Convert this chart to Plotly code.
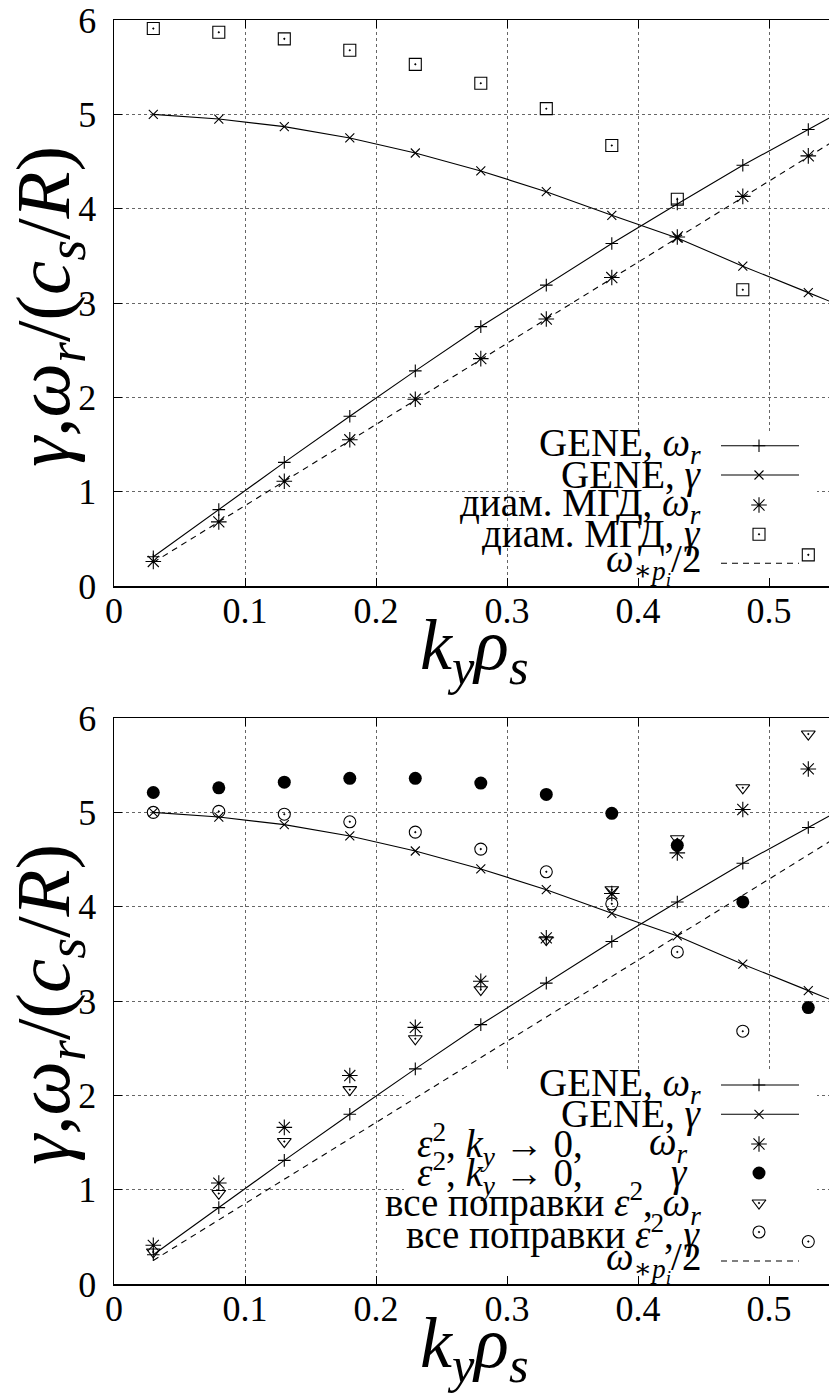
import plotly.graph_objects as go

# ---------------- data ----------------
KY = [0.03, 0.08, 0.13, 0.18, 0.23, 0.28, 0.33, 0.38, 0.43, 0.48, 0.53]
KY_LINE = [0.03, 0.08, 0.13, 0.18, 0.23, 0.28, 0.33, 0.38, 0.43, 0.48, 0.53, 0.58]

GENE_WR = [0.31, 0.81, 1.31, 1.80, 2.28, 2.75, 3.19, 3.63, 4.05, 4.46, 4.84, 5.22]
GENE_GAMMA = [5.00, 4.95, 4.87, 4.75, 4.59, 4.40, 4.18, 3.93, 3.69, 3.39, 3.11, 2.83]
OMEGA_STAR_HALF = [0.25, 0.68, 1.11, 1.54, 1.97, 2.40, 2.83, 3.26, 3.69, 4.12, 4.55, 4.98]

MHD_WR = [0.26, 0.68, 1.11, 1.55, 1.98, 2.41, 2.83, 3.27, 3.70, 4.13, 4.56]
MHD_GAMMA = [5.91, 5.87, 5.80, 5.68, 5.53, 5.33, 5.06, 4.67, 4.10, 3.14, 0.33]

EPS_WR = [0.41, 1.07, 1.66, 2.21, 2.72, 3.21, 3.67, 4.14, 4.57, 5.03, 5.46]
EPS_GAMMA = [5.21, 5.26, 5.32, 5.36, 5.36, 5.31, 5.19, 4.99, 4.65, 4.05, 2.93]
ALL_WR = [0.34, 0.96, 1.51, 2.06, 2.60, 3.12, 3.65, 4.18, 4.72, 5.26, 5.83]
ALL_GAMMA = [5.00, 5.01, 4.98, 4.90, 4.79, 4.61, 4.37, 4.03, 3.52, 2.68, 0.45]

X_TICKS = [0, 0.1, 0.2, 0.3, 0.4, 0.5]
X_TICKTEXT = ["0", "0.1", "0.2", "0.3", "0.4", "0.5"]
Y_TICKS = [0, 1, 2, 3, 4, 5, 6]
Y_TICKTEXT = ["0", "1", "2", "3", "4", "5", "6"]

# ---------------- layout constants (pixels) ----------------
W, H = 829, 1394
PLOT_LEFT = 114
PX_PER_01 = 131.0
XMAX = (W - PLOT_LEFT) / (PX_PER_01 * 10)
TOP_Y0, TOP_Y1 = 586, 20
BOT_Y0, BOT_Y1 = 1284, 718
SERIF = "Liberation Serif, 'Times New Roman', 'DejaVu Serif', serif"
BLACK = "black"


def px(x):
    return x / W


def py(y):
    return 1 - y / H


WR = "<i>ω</i><sub><i>r</i></sub>"
GA = "<i>γ</i>"
OMS = "<i>ω</i><sub>∗<i>p</i><sub><i>i</i></sub></sub>/2"

fig = go.Figure()

line_style = dict(color=BLACK, width=1.1)
plus_m = dict(symbol="cross-thin-open", size=9, color=BLACK, line=dict(color=BLACK, width=1.1))
x_m = dict(symbol="x-thin-open", size=9, color=BLACK, line=dict(color=BLACK, width=1.1))
ast_m = dict(symbol="asterisk-open", size=13, color=BLACK, line=dict(color=BLACK, width=1.1))
sq_m = dict(symbol="square-open-dot", size=12, color=BLACK, line=dict(color=BLACK, width=1.1))
dot_m = dict(symbol="circle", size=13, color=BLACK, line=dict(width=0))
tri_m = dict(symbol="triangle-down-open-dot", size=12, color=BLACK, line=dict(color=BLACK, width=1.1))
circ_m = dict(symbol="circle-open-dot", size=12, color=BLACK, line=dict(color=BLACK, width=1.1))
dash_style = dict(color=BLACK, width=1.1, dash="6px,5px")

for xa, ya in (("x", "y"), ("x2", "y2")):
    fig.add_trace(go.Scatter(x=KY_LINE, y=OMEGA_STAR_HALF, mode="lines", line=dash_style,
                             xaxis=xa, yaxis=ya, showlegend=False))
    fig.add_trace(go.Scatter(x=KY_LINE, y=GENE_WR, mode="lines+markers", line=line_style,
                             marker=plus_m, xaxis=xa, yaxis=ya, showlegend=False))
    fig.add_trace(go.Scatter(x=KY_LINE, y=GENE_GAMMA, mode="lines+markers", line=line_style,
                             marker=x_m, xaxis=xa, yaxis=ya, showlegend=False))

# top panel points
fig.add_trace(go.Scatter(x=KY, y=MHD_WR, mode="markers", marker=ast_m, xaxis="x", yaxis="y", showlegend=False))
fig.add_trace(go.Scatter(x=KY, y=MHD_GAMMA, mode="markers", marker=sq_m, xaxis="x", yaxis="y", showlegend=False))
# bottom panel points
fig.add_trace(go.Scatter(x=KY, y=EPS_WR, mode="markers", marker=ast_m, xaxis="x2", yaxis="y2", showlegend=False))
fig.add_trace(go.Scatter(x=KY, y=EPS_GAMMA, mode="markers", marker=dot_m, xaxis="x2", yaxis="y2", showlegend=False))
fig.add_trace(go.Scatter(x=KY, y=ALL_WR, mode="markers", marker=tri_m, xaxis="x2", yaxis="y2", showlegend=False))
fig.add_trace(go.Scatter(x=KY, y=ALL_GAMMA, mode="markers", marker=circ_m, xaxis="x2", yaxis="y2", showlegend=False))

# ---------------- hand-made legends (gnuplot style: text left, sample right) ----------------
SAMPLE_X0, SAMPLE_XM, SAMPLE_X1 = 721, 759, 799
TEXT_RIGHT = 703
LEG_FONT = dict(family=SERIF, size=39, color=BLACK)

top_rows = [
    (445.7, "GENE, " + WR, "line", plus_m),
    (475.0, "GENE, " + GA, "line", x_m),
    (505.0, "диам. МГД, " + WR, None, ast_m),
    (534.3, "диам. МГД, " + GA, None, sq_m),
    (563.3, OMS, "dash", None),
]
bot_rows = [
    (1085.0, "GENE, " + WR, "line", plus_m),
    (1114.3, "GENE, " + GA, "line", x_m),
    (1144.0, ("<i>ε</i><sup>2</sup>, <i>k</i><sub><i>y</i></sub> → 0,", WR), None, ast_m),
    (1173.0, ("<i>ε</i><sup>2</sup>, <i>k</i><sub><i>y</i></sub> → 0,", GA), None, dot_m),
    (1203.0, "все поправки <i>ε</i><sup>2</sup>, " + WR, None, tri_m),
    (1232.0, "все поправки <i>ε</i><sup>2</sup>, " + GA, None, circ_m),
    (1261.0, OMS, "dash", None),
]

annotations = []
for rows in (top_rows, bot_rows):
    for yrow, text, ltype, mk in rows:
        if isinstance(text, tuple):
            annotations.append(dict(x=px(585), y=py(yrow), xref="paper", yref="paper", text=text[0],
                                    showarrow=False, xanchor="right", yanchor="middle", font=LEG_FONT))
            annotations.append(dict(x=px(690), y=py(yrow), xref="paper", yref="paper", text=text[1],
                                    showarrow=False, xanchor="right", yanchor="middle", font=LEG_FONT))
        else:
            annotations.append(dict(x=px(TEXT_RIGHT), y=py(yrow), xref="paper", yref="paper", text=text,
                                    showarrow=False, xanchor="right", yanchor="middle", font=LEG_FONT))
        if ltype is not None:
            fig.add_trace(go.Scatter(x=[SAMPLE_X0, SAMPLE_X1], y=[yrow, yrow], mode="lines",
                                     line=line_style if ltype == "line" else dash_style,
                                     xaxis="x3", yaxis="y3", showlegend=False, hoverinfo="skip"))
        if mk is not None:
            fig.add_trace(go.Scatter(x=[SAMPLE_XM], y=[yrow], mode="markers", marker=mk,
                                     xaxis="x3", yaxis="y3", showlegend=False, hoverinfo="skip"))

# axis titles
YT = "<i>γ</i>,<i>ω</i><sub><i>r</i></sub>/(<i>c</i><sub><i>s</i></sub>/<i>R</i>)"
XT = "<i>k</i><sub><i>y</i></sub><i>ρ</i><sub><i>s</i></sub>"
for off in (0, 698):
    annotations.append(dict(x=px(48), y=py(307 + off), xref="paper", yref="paper", text=YT,
                            textangle=-90, showarrow=False, xanchor="center", yanchor="middle",
                            font=dict(family=SERIF, size=77, color=BLACK)))
    annotations.append(dict(x=px(474), y=py(650 + off), xref="paper", yref="paper", text=XT,
                            showarrow=False, xanchor="center", yanchor="middle",
                            font=dict(family=SERIF, size=72, color=BLACK)))


# legend background boxes (hide grid behind keys)
def dx(p):
    return (p - PLOT_LEFT) / (PX_PER_01 * 10)


shapes = [
    dict(type="rect", xref="x", yref="y", x0=dx(527), x1=dx(817), y0=0, y1=(TOP_Y0 - 432) / 94.3,
         fillcolor="white", line=dict(width=0), layer="between"),
    dict(type="rect", xref="x2", yref="y2", x0=dx(404), x1=dx(817), y0=0, y1=(BOT_Y0 - 1070) / 94.3,
         fillcolor="white", line=dict(width=0), layer="between"),
]

xcommon = dict(range=[0, XMAX], tickvals=X_TICKS, ticktext=X_TICKTEXT, ticks="inside", ticklen=8,
               tickwidth=1, tickcolor=BLACK, showline=True, linecolor=BLACK, linewidth=1.5,
               mirror="ticks", showgrid=True, gridcolor="#666666", griddash="dot", gridwidth=1,
               zeroline=False, tickfont=dict(family=SERIF, size=36, color=BLACK),
               ticklabelstandoff=-8, domain=[px(PLOT_LEFT), 1], fixedrange=True, automargin=False)
ycommon = dict(range=[0, 6], tickvals=Y_TICKS, ticktext=Y_TICKTEXT, ticks="inside", ticklen=8,
               tickwidth=1, tickcolor=BLACK, showline=True, linecolor=BLACK, linewidth=1.5,
               mirror=False, showgrid=True, gridcolor="#666666", griddash="dot", gridwidth=1,
               zeroline=False, tickfont=dict(family=SERIF, size=36, color=BLACK),
               ticklabelstandoff=9, fixedrange=True, automargin=False)

fig.update_layout(
    template="none",
    width=W, height=H,
    margin=dict(l=0, r=0, t=0, b=0, pad=0, autoexpand=False),
    paper_bgcolor="white", plot_bgcolor="rgba(0,0,0,0)",
    showlegend=False,
    font=dict(family=SERIF, color=BLACK),
    xaxis=dict(**xcommon, anchor="y"),
    yaxis=dict(**ycommon, anchor="x", domain=[py(TOP_Y0), py(TOP_Y1)]),
    xaxis2=dict(**xcommon, anchor="y2"),
    yaxis2=dict(**ycommon, anchor="x2", domain=[py(BOT_Y0), py(BOT_Y1)]),
    xaxis3=dict(range=[0, W], domain=[0, 1], anchor="y3", visible=False, fixedrange=True, automargin=False),
    yaxis3=dict(range=[H, 0], domain=[0, 1], anchor="x3", visible=False, fixedrange=True, automargin=False),
    annotations=annotations,
    shapes=shapes,
)

fig.write_html("out.html",
               config={"displayModeBar": False, "staticPlot": True},
               post_script="document.body.style.margin='0';document.body.style.overflow='hidden';")
